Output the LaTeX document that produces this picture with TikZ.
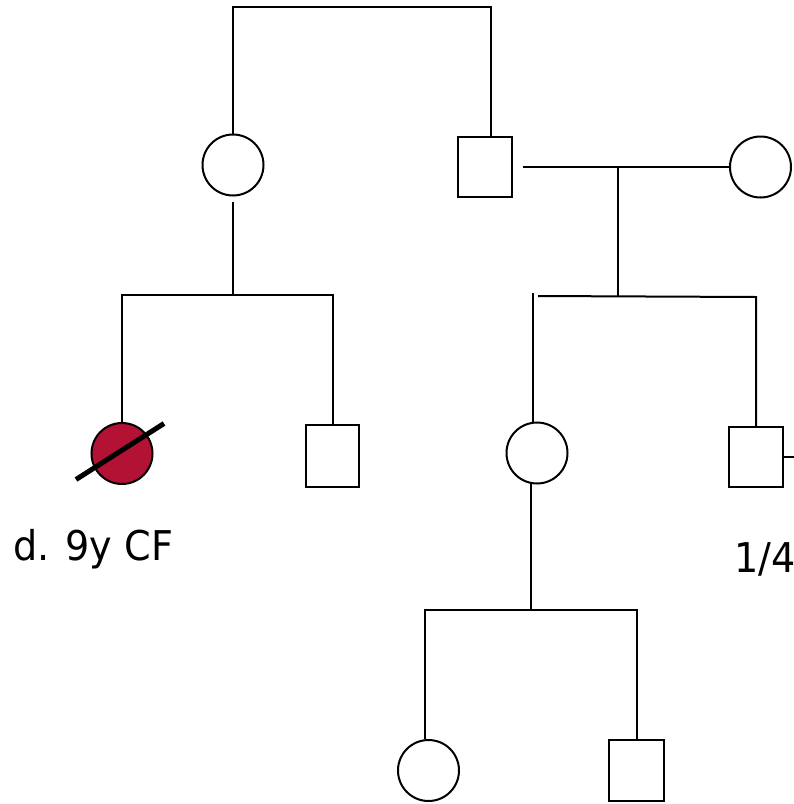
\documentclass[tikz,border=0pt]{standalone}
\usepackage{fontspec}
\newfontfamily\lblfont[FakeStretch=0.93]{DejaVu Sans}
\usetikzlibrary{calc}
\definecolor{affected}{HTML}{B31235}
\begin{document}
\begin{tikzpicture}[x=1pt,y=-1pt,
  line width=2pt,
  fem/.style={circle,draw,fill=white,inner sep=0pt,minimum size=61pt},
  mal/.style={rectangle,draw,fill=white,inner sep=0pt,minimum width=54pt,minimum height=60pt},
  aff/.style={fem,fill=affected},
  slash/.style={line width=5pt},
  lbl/.style={font=\lblfont\fontsize{41}{48}\selectfont,inner sep=0pt,anchor=base west}]
\useasboundingbox (0,0) rectangle (794,804);
% generation I / II
\node[fem] (gm) at (233,165) {};
\node[mal] (gf) at (485,167) {};
\node[fem] (gfw) at (760.5,167) {};
% generation III
\node[aff] (p1) at (122,453.5) {};
\node[mal,minimum width=53pt,minimum height=62pt] (p2) at (332.5,456) {};
\node[fem] (m) at (537,453) {};
\node[mal] (u) at (756,457) {};
% generation IV
\node[fem] (c1) at (428.5,770.5) {};
\node[mal,minimum width=55pt,minimum height=61pt] (c2) at (636.5,770.5) {};
% coordinates
\coordinate (tl) at (233,7);
\coordinate (tr) at (491,7);
\coordinate (j1) at (233,295);
\coordinate (j2) at (618,167);
\coordinate (j3) at (618,296.5);
\coordinate (sl) at (538,296);
\coordinate (sr) at (756,297);
\coordinate (ml) at (532.5,293);
\coordinate (j4) at (531,610);
\coordinate (ue) at (800,457);
% connectors
\draw (gm.north) -- (tl) -- (tr) -- (tr |- gf.north);
\draw ([yshift=-5pt]gm.south) -- (j1);
\draw (p1.north) |- (j1) -| (p2.north);
\draw ([xshift=10pt]gf.east) -- (gfw.west);
\draw (j2) -- (j3);
\draw (sl) -- (sr) -- (u.north);
\draw (ml) -- (ml |- m.north);
\draw ([xshift=-6pt,yshift=3pt]m.south) -- (j4);
\draw ([xshift=-3.5pt]c1.north) |- (j4) -| (c2.north);
\draw (u.east) -- (ue);
% deceased slash
\draw[slash] ($(p1)+(-46,26)$) -- ($(p1)+(42,-30)$);
% labels
\node[lbl] (t1) at (12,560) {d. 9y CF};
\node[lbl] (t2) at (733,572) {1/4};
\end{tikzpicture}
\end{document}
